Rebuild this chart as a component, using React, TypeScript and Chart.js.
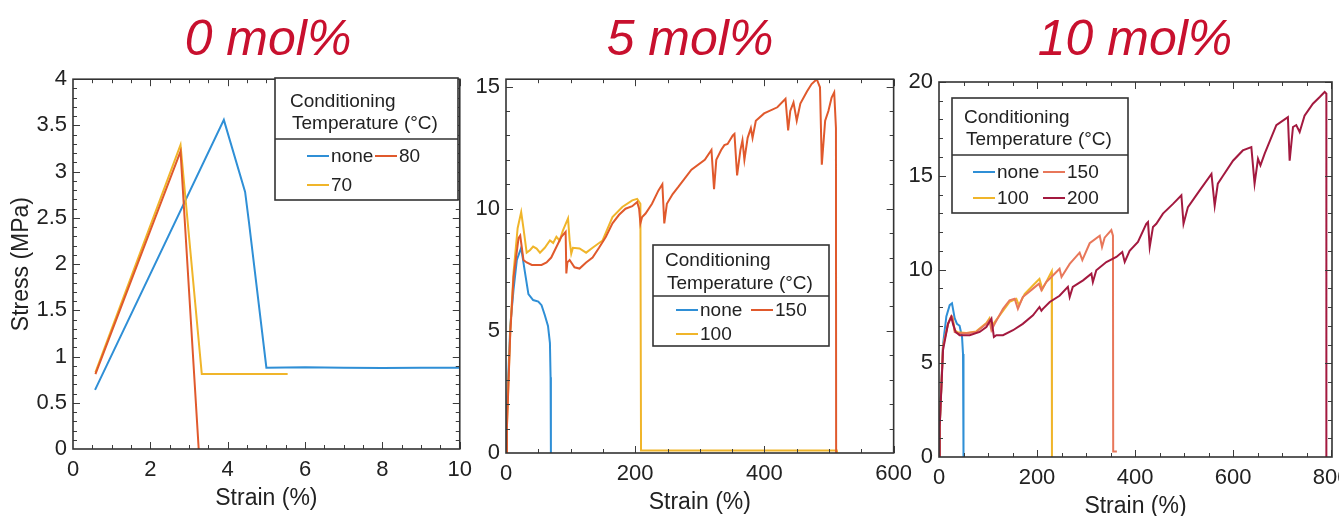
import React, { useEffect, useRef } from "react";
import { Chart, registerables } from "chart.js";

Chart.register(...registerables);

type Pt = [number, number];

const FONT = "'Liberation Sans', Arial, Helvetica, sans-serif";

// ---------- Titles / labels ----------
const PANEL_TITLES = ["0 mol%", "5 mol%", "10 mol%"];
const LEGEND_TITLE = ["Conditioning", "Temperature (°C)"];
const X_TITLE = "Strain (%)";
const Y_TITLE = "Stress (MPa)";

// ---------- Colours ----------
const BLUE = "#2f8fd6";
const ORANGE = "#e0592c";
const YELLOW = "#f0b52a";
const SALMON = "#e8775a";
const MAROON = "#a3193f";
const TITLE_RED = "#c8102e";

// ---------- Tick values ----------
const mol0XTicks = [0, 2, 4, 6, 8, 10];
const mol0YTicks = [0, 0.5, 1, 1.5, 2, 2.5, 3, 3.5, 4];
const mol5XTicks = [0, 200, 400, 600];
const mol5YTicks = [0, 5, 10, 15];
const mol10XTicks = [0, 200, 400, 600, 800];
const mol10YTicks = [0, 5, 10, 15, 20];

// ---------- 0 mol% ----------
const mol0Labels = ["none", "70", "80"];
const mol0None: Pt[] = [[0.57, 0.64], [3.9, 3.56], [4.45, 2.78], [4.55, 2.45], [5.0, 0.88], [6, 0.885], [7, 0.88], [8, 0.875], [9, 0.88], [10, 0.88]];
const mol0T70: Pt[] = [[0.58, 0.83], [2.78, 3.29], [3.33, 0.81], [5.55, 0.81]];
const mol0T80: Pt[] = [[0.58, 0.81], [2.78, 3.22], [3.25, 0]];

// ---------- 5 mol% ----------
const mol5Labels = ["none", "100", "150"];
const mol5None: Pt[] = [[0, 0], [1.5, 1.8], [6.6, 5.2], [11.7, 6.7], [16.8, 7.9], [23.5, 8.4], [29.6, 7.35], [34.7, 6.5], [42, 6.26], [50, 6.2], [55, 6.05], [60, 5.65], [65, 5.2], [68, 4.5], [69, 3.1], [69.5, 0]];
const mol5T100: Pt[] = [[0, 0], [1.5, 1.2], [6.6, 5.0], [11.7, 7.4], [18, 9.2], [23.5, 9.86], [27, 9.2], [32, 8.2], [37, 8.3], [42, 8.45], [47.4, 8.37], [52.6, 8.2], [60, 8.4], [68, 8.7], [73, 8.6], [78, 8.85], [83, 8.7], [88, 9.1], [96, 9.6], [98.5, 8.7], [101, 8.16], [103.6, 8.4], [113.8, 8.37], [124, 8.2], [134, 8.4], [149.5, 8.7], [164.8, 9.66], [180, 10.07], [195.4, 10.34], [203, 10.4], [208, 10.2], [209, 0.1], [512, 0.1], [512.5, 0]];
const mol5T150: Pt[] = [[0, 0], [1.5, 1.1], [6.6, 4.9], [11.7, 7.2], [19.4, 8.8], [22, 8.9], [27, 7.9], [32, 7.8], [40, 7.7], [47.4, 7.7], [55, 7.7], [62.8, 7.8], [70, 8.0], [75.5, 8.3], [85.7, 8.85], [92.3, 9.05], [93.4, 7.35], [95, 7.8], [98.5, 7.9], [106, 7.6], [113.8, 7.55], [124, 7.8], [134, 8.0], [144, 8.4], [154.6, 8.85], [164.8, 9.4], [175, 9.75], [185, 10.0], [195.4, 10.1], [203, 10.27], [206, 10.0], [208, 9.4], [210.7, 9.66], [216, 9.8], [226, 10.2], [236, 10.75], [242, 11.0], [245, 9.4], [249, 10.2], [258, 10.6], [267, 10.9], [287, 11.6], [307.7, 12.0], [318, 12.4], [322, 10.8], [325.5, 12.0], [333, 12.4], [338, 12.6], [343, 12.65], [351, 13.0], [353.6, 13.06], [357.7, 11.36], [362.8, 12.4], [366, 12.8], [369, 12.0], [374, 12.9], [379, 13.3], [381.6, 12.9], [386.7, 13.6], [399.5, 13.9], [420, 14.15], [432.6, 14.5], [436.7, 13.2], [440, 14.0], [445, 14.35], [450, 13.6], [455.6, 14.3], [465.8, 14.8], [473, 15.1], [481, 15.3], [486, 14.97], [488.8, 11.8], [494, 13.6], [499, 14.0], [504, 14.55], [508, 14.76], [510.7, 13.3], [511, 0]];

// ---------- 10 mol% ----------
const mol10Labels = ["none", "100", "150", "200"];
const mol10None: Pt[] = [[0, 0], [1.4, 1.6], [8.2, 6.0], [15, 7.5], [21.8, 8.1], [26.5, 8.2], [32, 7.4], [36.7, 7.1], [42, 7.0], [47, 6.4], [49, 5.5], [50, 0]];
const mol10T100: Pt[] = [[0, 0], [1.4, 1.6], [8.2, 5.9], [18.4, 7.1], [25, 7.5], [28, 7.4], [32, 6.75], [38.8, 6.65], [55.8, 6.62], [76, 6.7], [96.6, 7.15], [103, 7.4], [107, 6.93], [113.6, 7.2], [123.8, 7.55], [144, 8.27], [157.8, 8.44], [163, 8.1], [175, 8.7], [198.6, 9.33], [205, 9.5], [211, 8.95], [222, 9.5], [230, 9.9], [230.5, 0]];
const mol10T150: Pt[] = [[0, 0], [1.4, 1.6], [8.2, 5.9], [18.4, 7.1], [25, 7.5], [27, 7.5], [32, 6.67], [38.8, 6.6], [55.8, 6.6], [76, 6.67], [96.6, 7.1], [103, 7.3], [107, 6.76], [113.6, 7.1], [130.6, 7.9], [144, 8.36], [154.4, 8.44], [161, 7.9], [171, 8.53], [191.8, 8.98], [204, 9.24], [209, 8.9], [219, 9.33], [239.5, 9.87], [246, 10.04], [250, 9.6], [266.7, 10.3], [287, 10.9], [292.5, 10.5], [307.5, 11.4], [328, 11.8], [332.7, 11.2], [338, 11.7], [351.7, 12.1], [355, 11.8], [355.5, 0.3], [363, 0.3]];
const mol10T200: Pt[] = [[0, 0], [1.4, 1.6], [8.2, 5.7], [18.4, 7.1], [25, 7.47], [28.6, 7.1], [34, 6.67], [42, 6.5], [62.6, 6.5], [83, 6.67], [96.6, 6.93], [107, 7.38], [112, 6.4], [117, 6.5], [130.6, 6.5], [151, 6.76], [171, 7.1], [191.8, 7.56], [205, 8.0], [209, 7.8], [212, 7.9], [226, 8.27], [246, 8.6], [263, 9.07], [266.7, 8.53], [273, 9.07], [294, 9.42], [311, 9.78], [314, 9.33], [321, 9.96], [341.5, 10.4], [362, 10.67], [374, 10.93], [379, 10.4], [389, 11.0], [406, 11.47], [423, 12.44], [426.5, 12.53], [430, 11.2], [436.7, 12.27], [443.5, 12.44], [457, 12.98], [477.6, 13.5], [494.6, 13.96], [499, 12.44], [508, 13.33], [532, 14.22], [556, 15.1], [562.6, 13.4], [569, 14.58], [579.6, 15.0], [600, 15.8], [620, 16.35], [637.4, 16.53], [644, 14.58], [651, 15.9], [656, 15.55], [664.6, 16.18], [688.4, 17.7], [712, 18.13], [715.6, 15.8], [722.4, 17.6], [729, 17.7], [736, 17.33], [746, 18.2], [763, 18.84], [777, 19.2], [787, 19.47], [790.5, 19.38], [790.5, 0]];

// ---------- Panel layout ----------
interface LegendCfg {
  x: number; y: number; w: number; h: number; div: number;
  titleX: number; titleBase: [number, number];
  rows: { line: number; base: number }[];
  cols: number[];
  slots: [number, number][]; // [row, col] per dataset
}
interface PanelCfg {
  left: number; top: number; w: number; h: number;
  padTop: number; padRight: number; yWidth: number; xHeight: number; xTitlePadBottom: number;
  xMin: number; xMax: number; xTicks: number[]; xStep: number; xMinor: number;
  yMin: number; yMax: number; yTicks: number[]; yStep: number; yMinor: number;
  yTitle: boolean;
  labels: string[]; colors: string[]; series: Pt[][];
  legend: LegendCfg;
}

const panels: PanelCfg[] = [
  {
    left: 0, top: 60, w: 480, h: 456,
    padTop: 15, padRight: 16, yWidth: 73, xHeight: 67, xTitlePadBottom: 4,
    xMin: 0, xMax: 10, xTicks: mol0XTicks, xStep: 2, xMinor: 0.5,
    yMin: 0, yMax: 4, yTicks: mol0YTicks, yStep: 0.5, yMinor: 0.1,
    yTitle: true,
    labels: mol0Labels, colors: [BLUE, YELLOW, ORANGE], series: [mol0None, mol0T70, mol0T80],
    legend: {
      x: 275, y: 78, w: 183, h: 122, div: 139, titleX: 290, titleBase: [107, 129],
      rows: [{ line: 156, base: 162 }, { line: 185, base: 191 }], cols: [307, 375],
      slots: [[0, 0], [1, 0], [0, 1]],
    },
  },
  {
    left: 470, top: 60, w: 450, h: 456,
    padTop: 18, padRight: 22, yWidth: 36, xHeight: 63, xTitlePadBottom: 0,
    xMin: 0, xMax: 600, xTicks: mol5XTicks, xStep: 200, xMinor: 50,
    yMin: 0, yMax: 15.3, yTicks: mol5YTicks, yStep: 5, yMinor: 1,
    yTitle: false,
    labels: mol5Labels, colors: [BLUE, YELLOW, ORANGE], series: [mol5None, mol5T100, mol5T150],
    legend: {
      x: 653, y: 245, w: 176, h: 101, div: 296, titleX: 665, titleBase: [266, 289],
      rows: [{ line: 310, base: 316 }, { line: 334, base: 340 }], cols: [676, 751],
      slots: [[0, 0], [1, 0], [0, 1]],
    },
  },
  {
    left: 900, top: 60, w: 460, h: 466,
    padTop: 22, padRight: 28, yWidth: 39, xHeight: 69, xTitlePadBottom: 6,
    xMin: 0, xMax: 802, xTicks: mol10XTicks, xStep: 200, xMinor: 50,
    yMin: 0, yMax: 20, yTicks: mol10YTicks, yStep: 5, yMinor: 1,
    yTitle: false,
    labels: mol10Labels, colors: [BLUE, YELLOW, SALMON, MAROON], series: [mol10None, mol10T100, mol10T150, mol10T200],
    legend: {
      x: 952, y: 98, w: 176, h: 115, div: 155, titleX: 964, titleBase: [123, 145],
      rows: [{ line: 172, base: 178 }, { line: 198, base: 204 }], cols: [973, 1043],
      slots: [[0, 0], [1, 0], [0, 1], [1, 1]],
    },
  },
];

const TITLE_CENTERS = [268, 690, 1135];

// ---------- Plugins ----------
function framePlugin(p: PanelCfg) {
  return {
    id: "frameTicks",
    afterDatasetsDraw(chart: any) {
      const { ctx, chartArea: a, scales } = chart;
      const xs = scales.x, ys = scales.y;
      ctx.save();
      ctx.strokeStyle = "#3c3c3c";
      ctx.lineWidth = 1;
      const seg = (x1: number, y1: number, x2: number, y2: number) => {
        ctx.beginPath(); ctx.moveTo(x1, y1); ctx.lineTo(x2, y2); ctx.stroke();
      };
      const nx = Math.round((p.xMax - p.xMin) / p.xMinor + 1e-6);
      for (let i = 1; i <= nx; i++) {
        const v = p.xMin + i * p.xMinor;
        if (v > p.xMax + 1e-9) break;
        const major = Math.abs(v / p.xStep - Math.round(v / p.xStep)) < 1e-6;
        const len = major ? 7 : 4;
        const px = Math.round(xs.getPixelForValue(v)) + 0.5;
        seg(px, a.bottom, px, a.bottom - len);
        seg(px, a.top, px, a.top + len);
      }
      const ny = Math.round((p.yMax - p.yMin) / p.yMinor + 1e-6);
      for (let i = 1; i <= ny; i++) {
        const v = p.yMin + i * p.yMinor;
        if (v > p.yMax + 1e-9) break;
        const major = Math.abs(v / p.yStep - Math.round(v / p.yStep)) < 1e-6;
        const len = major ? 7 : 4;
        const py = Math.round(ys.getPixelForValue(v)) + 0.5;
        seg(a.left, py, a.left + len, py);
        seg(a.right, py, a.right - len, py);
      }
      ctx.lineWidth = 1.6;
      ctx.strokeStyle = "#333";
      ctx.strokeRect(a.left, a.top, a.right - a.left, a.bottom - a.top);
      ctx.restore();
    },
  };
}

function legendPlugin(p: PanelCfg) {
  const L = p.legend;
  return {
    id: "boxLegend",
    afterDraw(chart: any) {
      const ctx = chart.ctx;
      const X = (v: number) => v - p.left;
      const Y = (v: number) => v - p.top;
      ctx.save();
      ctx.fillStyle = "#ffffff";
      ctx.fillRect(X(L.x), Y(L.y), L.w, L.h);
      ctx.strokeStyle = "#333";
      ctx.lineWidth = 1.6;
      ctx.strokeRect(X(L.x), Y(L.y), L.w, L.h);
      ctx.beginPath();
      ctx.moveTo(X(L.x), Y(L.div));
      ctx.lineTo(X(L.x + L.w), Y(L.div));
      ctx.stroke();
      ctx.font = `19px ${FONT}`;
      ctx.fillStyle = "#222";
      ctx.textAlign = "left";
      ctx.textBaseline = "alphabetic";
      ctx.fillText(LEGEND_TITLE[0], X(L.titleX), Y(L.titleBase[0]));
      ctx.fillText(LEGEND_TITLE[1], X(L.titleX + 2), Y(L.titleBase[1]));
      chart.data.datasets.forEach((ds: any, i: number) => {
        const [r, c] = L.slots[i];
        const row = L.rows[r];
        const cx = L.cols[c];
        ctx.strokeStyle = ds.borderColor;
        ctx.lineWidth = 2;
        ctx.beginPath();
        ctx.moveTo(X(cx), Y(row.line));
        ctx.lineTo(X(cx + 22), Y(row.line));
        ctx.stroke();
        ctx.fillStyle = "#222";
        ctx.fillText(ds.label, X(cx + 24), Y(row.base));
      });
      ctx.restore();
    },
  };
}

const fmt = (v: any) => String(Math.round(Number(v) * 100) / 100);

function Panel({ p }: { p: PanelCfg }) {
  const ref = useRef<HTMLCanvasElement>(null);
  useEffect(() => {
    const n = p.series.length;
    const chart = new Chart(ref.current as HTMLCanvasElement, {
      type: "line",
      data: {
        datasets: p.series.map((s, i) => ({
          label: p.labels[i],
          data: s.map(([x, y]) => ({ x, y })),
          borderColor: p.colors[i],
          backgroundColor: p.colors[i],
          borderWidth: 2,
          pointRadius: 0,
          tension: 0,
          fill: false,
          order: n - i,
        })),
      },
      options: {
        animation: false,
        responsive: false,
        events: [],
        layout: { padding: { top: p.padTop, right: p.padRight, left: 0, bottom: 0 } },
        plugins: { legend: { display: false }, tooltip: { enabled: false }, title: { display: false } },
        scales: {
          x: {
            type: "linear",
            min: p.xMin,
            max: p.xMax,
            grid: { display: false, drawTicks: false },
            border: { display: false },
            afterBuildTicks: (s: any) => { s.ticks = p.xTicks.map((value) => ({ value })); },
            ticks: {
              autoSkip: false,
              maxRotation: 0,
              padding: 8,
              color: "#222",
              font: { family: FONT, size: 22 },
              callback: fmt,
            },
            title: {
              display: true,
              text: X_TITLE,
              color: "#222",
              font: { family: FONT, size: 23 },
              padding: { top: 0, bottom: p.xTitlePadBottom },
            },
            afterFit: (s: any) => { s.height = p.xHeight; },
          },
          y: {
            type: "linear",
            min: p.yMin,
            max: p.yMax,
            grid: { display: false, drawTicks: false },
            border: { display: false },
            afterBuildTicks: (s: any) => { s.ticks = p.yTicks.map((value) => ({ value })); },
            ticks: {
              autoSkip: false,
              padding: 6,
              color: "#222",
              font: { family: FONT, size: 22 },
              callback: fmt,
            },
            title: {
              display: p.yTitle,
              text: Y_TITLE,
              color: "#222",
              font: { family: FONT, size: 23 },
              padding: { top: 8, bottom: 0 },
            },
            afterFit: (s: any) => { s.width = p.yWidth; },
          },
        },
      },
      plugins: [framePlugin(p), legendPlugin(p)],
    } as any);
    return () => chart.destroy();
  }, []);
  return (
    <canvas
      ref={ref}
      width={p.w}
      height={p.h}
      style={{ position: "absolute", left: p.left, top: p.top, width: p.w, height: p.h }}
    />
  );
}

export default function App() {
  return (
    <div
      style={{
        position: "fixed",
        left: 0,
        top: 0,
        width: 1339,
        height: 516,
        overflow: "hidden",
        background: "#ffffff",
      }}
    >
      {panels.map((p, i) => (
        <Panel key={i} p={p} />
      ))}
      {PANEL_TITLES.map((t, i) => (
        <div
          key={t}
          style={{
            position: "absolute",
            left: TITLE_CENTERS[i],
            top: 13,
            transform: "translateX(-50%)",
            fontFamily: FONT,
            fontStyle: "italic",
            fontSize: 50,
            lineHeight: 1,
            color: TITLE_RED,
            whiteSpace: "nowrap",
          }}
        >
          {t}
        </div>
      ))}
    </div>
  );
}
